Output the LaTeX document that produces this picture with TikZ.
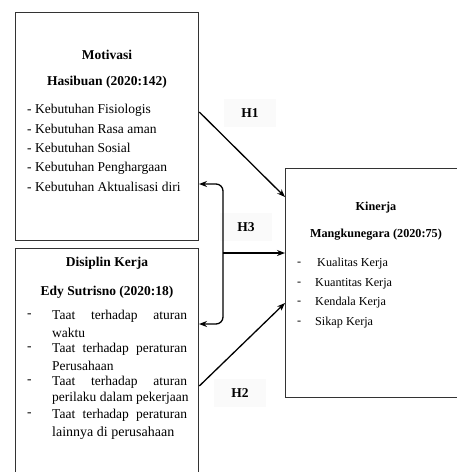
\documentclass[tikz,border=0pt]{standalone}
\usepackage{fontspec}
\setmainfont{Liberation Serif}
\usetikzlibrary{arrows.meta}
\begin{document}
\begin{tikzpicture}[x=1pt,y=-1pt,
  box/.style={draw=black!80,line width=1.3pt,fill=white,anchor=north west,inner sep=0pt},
  ttl/.style={font=\fontsize{13.5}{15}\selectfont\bfseries,inner sep=0pt},
  itm/.style={font=\fontsize{13.5}{15}\selectfont,anchor=west,inner sep=0pt},
  kttl/.style={font=\fontsize{12.2}{14}\selectfont\bfseries,inner sep=0pt},
  kitm/.style={font=\fontsize{12.2}{14}\selectfont,anchor=west,inner sep=0pt},
  hlab/.style={font=\fontsize{13.5}{15}\selectfont\bfseries,fill=black!2,minimum width=52pt,minimum height=28pt,inner sep=0pt},
  conn/.style={line width=1.3pt,-{Stealth[length=8pt,width=6pt]}}]
\useasboundingbox (0,0) rectangle (457,472);
\clip (0,0) rectangle (457,472);
% boxes
\node[box,minimum width=183pt,minimum height=228pt] (mot) at (15,12) {};
\node[box,minimum width=183pt,minimum height=240pt] (dis) at (15,248) {};
\node[box,minimum width=190pt,minimum height=229pt] (kin) at (285,168) {};
% Motivasi text
\node[ttl] (mt1) at (107,55) {Motivasi};
\node[ttl] (mt2) at (107,82) {Hasibuan (2020:142)};
\node[itm] (m1) at (27,110) {- Kebutuhan Fisiologis};
\node[itm] (m2) at (27,129) {- Kebutuhan Rasa aman};
\node[itm] (m3) at (27,148) {- Kebutuhan Sosial};
\node[itm] (m4) at (27,168) {- Kebutuhan Penghargaan};
\node[itm] (m5) at (27,187) {- Kebutuhan Aktualisasi diri};
% Disiplin text
\node[ttl] (dt1) at (107,263) {Disiplin Kerja};
\node[ttl] (dt2) at (107,292) {Edy Sutrisno (2020:18)};
\node[itm] (dd1) at (27,316) {-};
\node[itm] (d1a) at (52,316) {\makebox[135pt][s]{Taat terhadap aturan}};
\node[itm] (d1b) at (52,333) {waktu};
\node[itm] (dd2) at (27,349) {-};
\node[itm] (d2a) at (52,349) {\makebox[135pt][s]{Taat terhadap peraturan}};
\node[itm] (d2b) at (52,366) {Perusahaan};
\node[itm] (dd3) at (27,382) {-};
\node[itm] (d3a) at (52,382) {\makebox[135pt][s]{Taat terhadap aturan}};
\node[itm] (d3b) at (52,398) {perilaku dalam pekerjaan};
\node[itm] (dd4) at (27,415) {-};
\node[itm] (d4a) at (52,415) {\makebox[135pt][s]{Taat terhadap peraturan}};
\node[itm] (d4b) at (52,433) {\fontsize{14}{16}\selectfont lainnya di perusahaan};
% Kinerja text
\node[kttl] (kt1) at (376,208) {Kinerja};
\node[kttl] (kt2) at (376,235) {Mangkunegara (2020:75)};
\node[kitm] (kd1) at (297,264) {-};
\node[kitm] (k1) at (317,264) {Kualitas Kerja};
\node[kitm] (kd2) at (297,284) {-};
\node[kitm] (k2) at (315,284) {Kuantitas Kerja};
\node[kitm] (kd3) at (297,303) {-};
\node[kitm] (k3) at (315,303) {Kendala Kerja};
\node[kitm] (kd4) at (297,323) {-};
\node[kitm] (k4) at (315,323) {Sikap Kerja};
% labels
\node[hlab] (h1) at (250,113) {H1};
\node[hlab] (h3) at (246,227) {H3};
\node[hlab] (h2) at (240,393) {H2};
% connectors
\coordinate (h1s) at (mot.east |- 0,112);
\coordinate (h1e) at (kin.west |- 0,197);
\draw[conn] (h1s) -- (h1e);
\coordinate (h2s) at (dis.east |- 0,386);
\coordinate (h2e) at (kin.west |- 0,303);
\draw[conn] (h2s) -- (h2e);
\coordinate (h3a) at (199,184);
\coordinate (h3b) at (199,324);
\draw[line width=1.3pt,{Stealth[length=8pt,width=6pt]}-{Stealth[length=8pt,width=6pt]},rounded corners=7pt]
  (h3a) -- (223,184) -- (223,324) -- (h3b);
\coordinate (h3m) at (223,253);
\coordinate (h3e) at (kin.west |- 0,253);
\draw[conn] (h3m) -- (h3e);
\end{tikzpicture}
\end{document}
